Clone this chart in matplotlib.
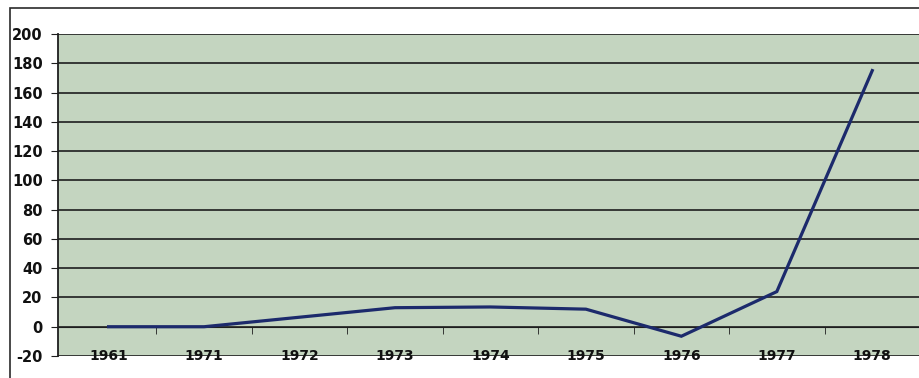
import matplotlib.pyplot as plt
from matplotlib.patches import Rectangle

# values
years = ["1961", "1971", "1972", "1973", "1974", "1975", "1976", "1977", "1978"]
values = [0, 0, 6.5, 13, 13.5, 12, -6.5, 24, 175]
y_ticks = list(range(-20, 201, 20))

W, H = 920, 378
fig = plt.figure(figsize=(W / 100, H / 100), dpi=100)
fig.patch.set_facecolor("white")

# outer chart frame (cut off at right and bottom in the scan)
fig.add_artist(Rectangle((10 / W, -0.1), 1.2, 1 - 8 / H + 0.1,
                         transform=fig.transFigure, fill=False,
                         edgecolor="#2a2a2a", linewidth=1.2))

ax = fig.add_axes([58 / W, 22 / H, (W - 58) / W, (356 - 34) / H])
ax.set_facecolor("#c4d5c0")

x = list(range(len(years)))
ax.plot(x, values, color="#1c2a6c", linewidth=2.3, solid_joinstyle="miter", zorder=3)

# category axis runs across at y=0 with ticks between categories
bin_w = 96.5
x_left = -0.53
ax.set_xlim(x_left, x_left + (W - 58) / bin_w)
ax.set_ylim(-20, 200)
ax.set_yticks(y_ticks)
ax.set_yticklabels([str(v) for v in y_ticks])
for v in y_ticks:
    ax.axhline(v, color="#1e1e1e", linewidth=1.2, zorder=1)

ax.spines["bottom"].set_position(("data", 0))
ax.spines["bottom"].set_color("#1e1e1e")
ax.spines["top"].set_visible(False)
ax.spines["right"].set_visible(False)
ax.spines["left"].set_color("#1e1e1e")
ax.spines["left"].set_linewidth(1.3)

ax.set_xticks(x)
ax.set_xticklabels(years)
ax.set_xticks([i + 0.5 for i in range(len(years))], minor=True)
ax.tick_params(axis="x", which="major", length=0, pad=16)
ax.tick_params(axis="x", which="minor", length=5, direction="out", color="#1e1e1e")
ax.tick_params(axis="y", length=5, direction="out", color="#1e1e1e", pad=6)

for lbl in ax.get_yticklabels():
    lbl.set_fontsize(10.5)
    lbl.set_fontweight("bold")
    lbl.set_color("#111111")
for lbl in ax.get_xticklabels():
    lbl.set_fontsize(10)
    lbl.set_fontweight("heavy")
    lbl.set_color("#111111")

plt.savefig("out.png", dpi=100)
